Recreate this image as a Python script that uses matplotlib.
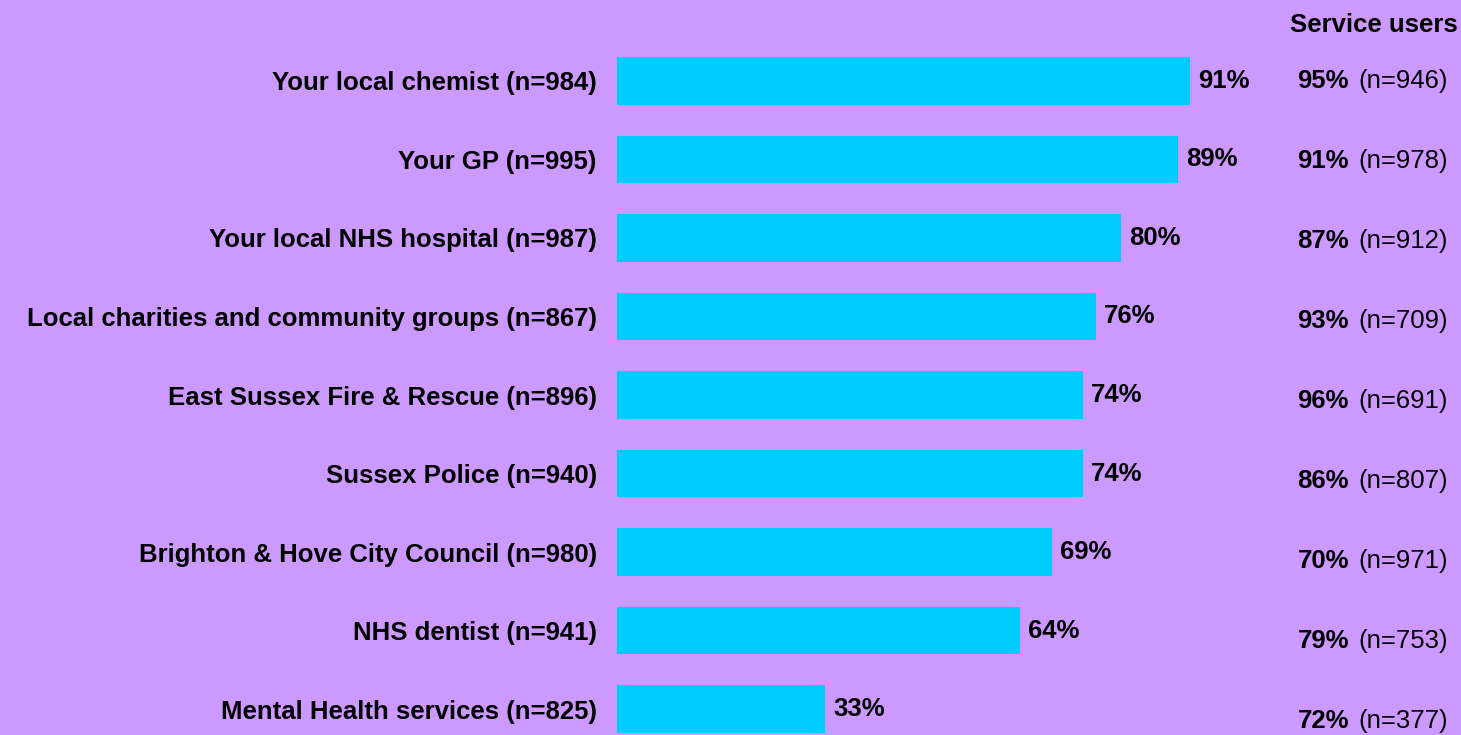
import numpy as np
import matplotlib.pyplot as plt

plt.rcParams['font.family'] = ['Liberation Sans', 'DejaVu Sans']

# data
labels = ['Your local chemist (n=984)',
          'Your GP (n=995)',
          'Your local NHS hospital (n=987)',
          'Local charities and community groups (n=867)',
          'East Sussex Fire & Rescue (n=896)',
          'Sussex Police (n=940)',
          'Brighton & Hove City Council (n=980)',
          'NHS dentist (n=941)',
          'Mental Health services (n=825)']
overall = [91, 89, 80, 76, 74, 74, 69, 64, 33]
users_pct = [95, 91, 87, 93, 96, 86, 70, 79, 72]
users_n = [946, 978, 912, 709, 691, 807, 971, 753, 377]

bg = '#CC99FF'
bar_col = '#00CCFF'
fs = 18.5

W, H = 1461, 735
fig = plt.figure(figsize=(W / 100, H / 100), dpi=100, facecolor=bg)
ax = fig.add_axes([617 / W, 2 / H, 630 / W, 676 / H])
ax.set_facecolor(bg)

y = np.arange(len(labels))
bh = 0.611
ax.barh(y, overall, height=bh, color=bar_col, edgecolor='none')
ax.set_xlim(0, 100)
ax.set_ylim(len(labels) - 1 + bh / 2, -bh / 2)

for yi, v in zip(y, overall):
    ax.annotate(f'{v}%', (v, yi), xytext=(8, 0), textcoords='offset pixels',
                ha='left', va='center', fontsize=fs, fontweight='bold')

ax.set_yticks(y)
ax.set_yticklabels(labels, fontsize=fs, fontweight='bold')
ax.tick_params(axis='y', length=0, pad=14.5)
ax.set_xticks([])
for s in ax.spines.values():
    s.set_visible(False)

# right-hand column: service users
fig.text(1458 / W, 1 - 25 / H, 'Service users', ha='right', va='center',
         fontsize=fs, fontweight='bold')
rows_y = np.linspace(81, 721, len(users_pct))
for ry, p, n in zip(rows_y, users_pct, users_n):
    fig.text(1349 / W, 1 - ry / H, f'{p}%', ha='right', va='center',
             fontsize=fs, fontweight='bold')
    fig.text(1358 / W, 1 - ry / H, f'(n={n})', ha='left', va='center',
             fontsize=fs)

fig.savefig('out.png', dpi=100, facecolor=bg)
